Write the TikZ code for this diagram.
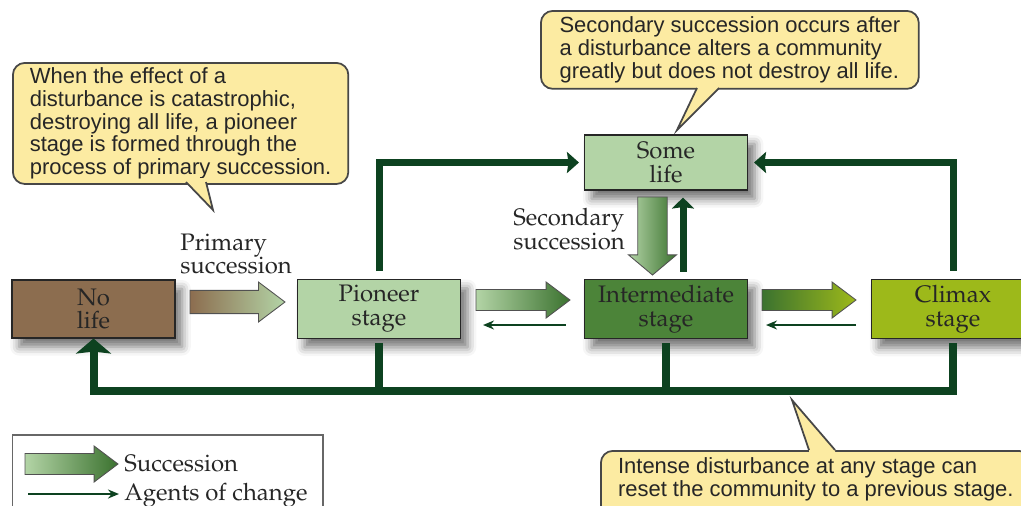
\documentclass[tikz,border=0pt]{standalone}
\usepackage[T1,TU]{fontenc}
\usepackage{fontspec}
\newfontfamily\calloutfont{Liberation Sans}
\newcommand\palfont{\fontencoding{T1}\fontfamily{ppl}\selectfont}
\usetikzlibrary{shapes.arrows, arrows.meta, shadows.blur, calc}
\definecolor{soil}{HTML}{8C6D4F}
\definecolor{pale}{HTML}{B3D4A6}
\definecolor{mid}{HTML}{4C8439}
\definecolor{deep}{HTML}{3B722F}
\definecolor{lime}{HTML}{9DB91A}
\definecolor{forest}{HTML}{0D4220}
\definecolor{note}{HTML}{FCEBA2}
\definecolor{ink}{HTML}{262626}
\tikzset{
  stage/.style={rectangle, draw=ink, line width=0.6pt, minimum width=3.26cm,
                minimum height=1.16cm, align=center, text=ink,
                font=\palfont\fontsize{13.6}{13.6}\selectfont,
                blur shadow={shadow xshift=4pt, shadow yshift=-5pt,
                             shadow blur radius=5pt, shadow opacity=55}},
  succ/.style={single arrow, draw=ink!80, line width=0.5pt, anchor=tail,
               single arrow head extend=0.1cm, single arrow tip angle=74,
               single arrow head indent=0pt, minimum width=0.72cm,
               minimum height=1.88cm, inner xsep=0pt, inner ysep=0.13cm,
               outer sep=0pt},
  agent/.style={draw=forest, line width=1.2pt,
                -{Stealth[length=0.22cm, width=0.18cm]}},
  trunk/.style={draw=forest, line width=0.14cm},
  trunkhead/.style={-{Stealth[length=0.24cm, width=0.42cm, inset=0.03cm]}},
  steplabel/.style={font=\palfont\fontsize{13.6}{13.4}\selectfont, text=ink,
                    align=left, inner sep=0pt},
  calloutbox/.style={rectangle, rounded corners=0.24cm, draw=ink!85,
                     line width=1pt, fill=note, text=ink, align=left,
                     inner xsep=0.34cm, inner ysep=0.1cm, anchor=north west,
                     font=\calloutfont\fontsize{12.5}{12.9}\selectfont},
  pointerline/.style={draw=ink!85, line width=1pt},
  legframe/.style={draw=ink!70, line width=0.8pt},
}

\begin{document}
\begin{tikzpicture}[x=0.02cm, y=-0.02cm]

  \clip (0,0) rectangle (1021,505);

  %% Stages
  \node[stage, fill=soil]  (nolife)  at (93.5,309) {No\\life};
  \node[stage, fill=pale]  (pioneer) at (379,309)  {Pioneer\\stage};
  \node[stage, fill=mid]   (inter)   at (666,309)  {Intermediate\\stage};
  \node[stage, fill=lime]  (climax)  at (953,309)  {Climax\\stage};
  \node[stage, fill=pale, minimum height=1.1cm] (some) at (666,162.5) {Some\\life};

  %% Succession arrows
  \node[succ, left color=soil, right color=pale, minimum height=1.9cm,
        minimum width=0.8cm] (primarr) at (190,302) {};
  \node[succ, left color=pale, right color=deep] (pioarr) at (476,300) {};
  \node[succ, left color=deep, right color=lime] (intarr) at (762,300) {};
  \node[succ, left color=pale, right color=deep, rotate=-90,
        minimum width=0.96cm, minimum height=1.56cm, inner ysep=0.15cm,
        single arrow tip angle=100] (secarr) at (652.5,197) {};

  \node[steplabel, anchor=west] (primlbl) at (180,254) {Primary\\succession};
  \node[steplabel, anchor=west] (seclbl)  at (513,229) {Secondary\\succession};

  %% Agents of change
  \draw[agent] ([xshift=-0.36cm, yshift=-0.32cm]inter.west)
    -- ([xshift=0.44cm, yshift=-0.32cm]pioneer.east);
  \draw[agent] ([xshift=-0.3cm, yshift=-0.32cm]climax.west)
    -- ([xshift=0.36cm, yshift=-0.32cm]inter.east);
  \draw[trunk, -{Stealth[length=0.22cm, width=0.44cm, inset=0.03cm]}]
    ([xshift=0.34cm, yshift=0.14cm]inter.north)
    -- ([xshift=0.34cm, yshift=-0.14cm]some.south);
  \draw[trunk, trunkhead] ([yshift=0.16cm]pioneer.north)
    |- ([xshift=-0.1cm]some.west);
  \draw[trunk, trunkhead] ([yshift=0.16cm]climax.north)
    |- ([xshift=0.12cm]some.east);

  %% Reset bus
  \coordinate (busleft) at (93.5,391);
  \draw[trunk, line width=0.16cm] ([yshift=-0.08cm]pioneer.south) -- (pioneer.south |- busleft);
  \draw[trunk, line width=0.16cm] ([yshift=-0.08cm]inter.south) -- (inter.south |- busleft);
  \draw[trunk, line width=0.16cm, -{Stealth[length=0.3cm, width=0.7cm, inset=0.04cm]}]
    ([yshift=-0.08cm]climax.south) |- (busleft) -- (nolife.south);

  %% Callouts
  \node[calloutbox, minimum width=6.66cm, minimum height=2.4cm] (primnote) at (12,62)
    {When the effect of a\\disturbance is catastrophic,\\destroying all life, a pioneer\\stage is formed through the\\process of primary succession.};
  \coordinate (primtip) at (213,210);
  \fill[note] (186,178) -- (186,182) -- (primtip) -- (206,182) -- (206,178) -- cycle;
  \draw[pointerline] (186,182) -- (primtip) -- (206,182);

  \node[calloutbox, minimum width=7.56cm, minimum height=1.56cm] (secnote) at (540,10)
    {Secondary succession occurs after\\a disturbance alters a community\\greatly but does not destroy all life.};
  \coordinate (sectip) at (677,130);
  \fill[note] (697,84) -- (697,88) -- (sectip) -- (719,88) -- (719,84) -- cycle;
  \draw[pointerline] (697,88) -- (sectip) -- (719,88);

  \node[calloutbox, minimum width=8.6cm, inner ysep=0.14cm, text depth=1cm]
    (resetnote) at (600,450)
    {Intense disturbance at any stage can\\reset the community to a previous stage.};
  \coordinate (resettip) at (792,400);
  \fill[note] (809,454) -- (809,450) -- (resettip) -- (835,450) -- (835,454) -- cycle;
  \draw[pointerline] (809,450) -- (resettip) -- (835,450);

  %% Legend
  \draw[legframe] (12.5,435) rectangle (323,530);
  \node[succ, left color=pale, right color=deep, minimum height=1.86cm]
    (legsucc) at (25,464) {};
  \node[steplabel, anchor=base west] (legsucclbl) at (124,471.5) {Succession};
  \coordinate (legA) at (28,494);
  \coordinate (legB) at (119,494);
  \draw[agent] (legA) -- (legB);
  \node[steplabel, anchor=base west] (legagentlbl) at (124,500) {Agents of change};

\end{tikzpicture}
\end{document}
